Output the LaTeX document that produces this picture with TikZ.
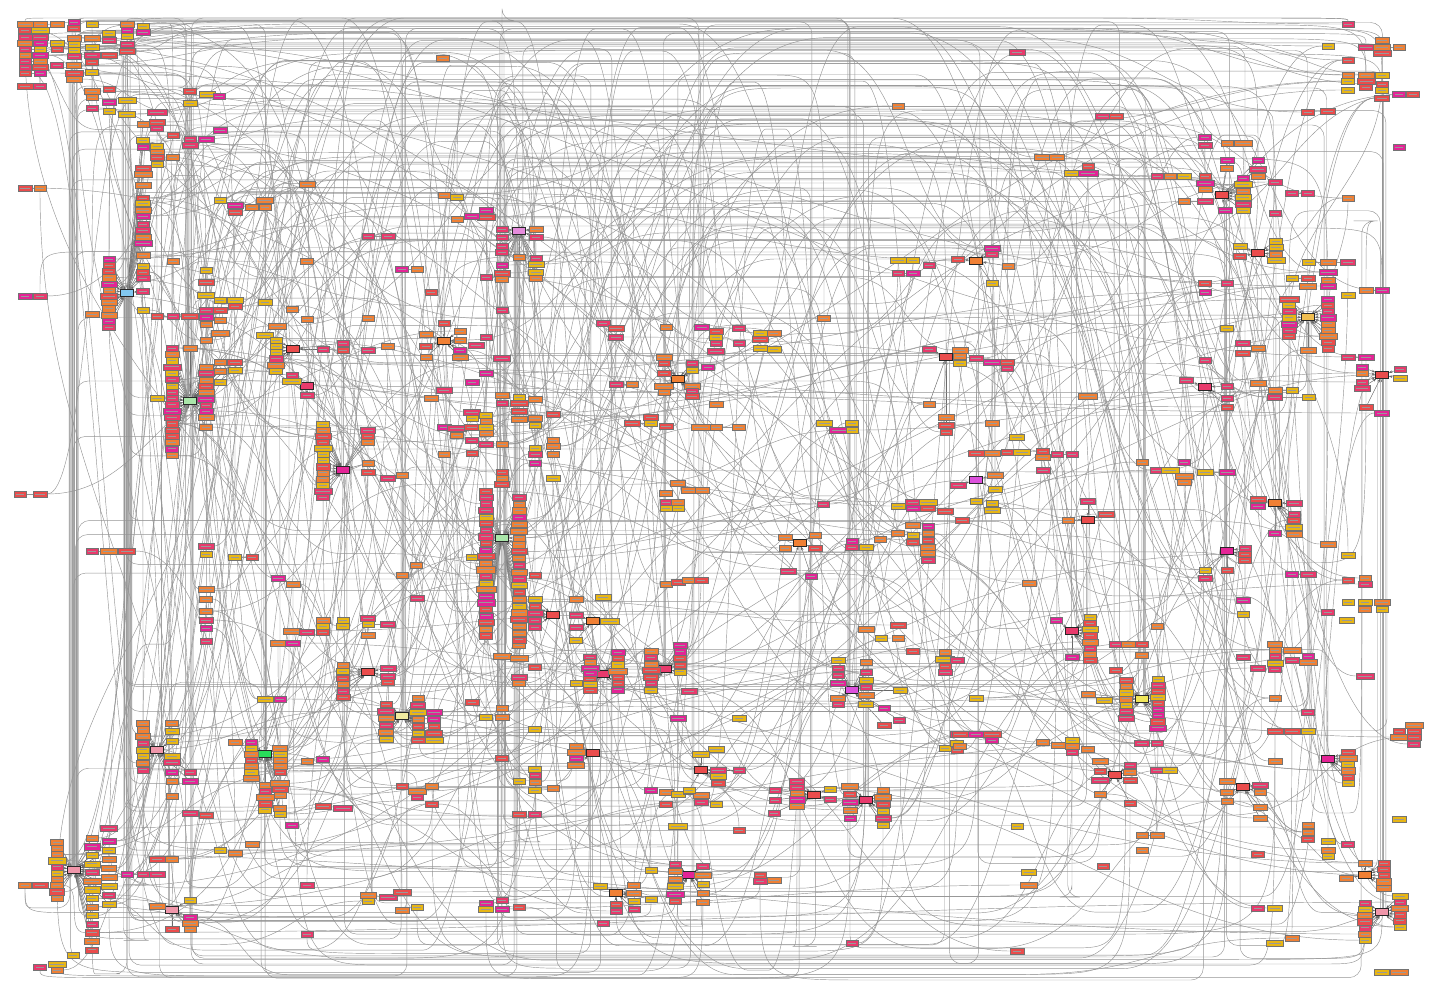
\documentclass[tikz,border=0pt]{standalone}
\usetikzlibrary{arrows.meta}
\pgfdeclarelayer{bg}
\pgfsetlayers{bg,main}
\definecolor{cY}{RGB}{232,182,20}
\definecolor{cO}{RGB}{240,128,52}
\definecolor{cR}{RGB}{234,76,76}
\definecolor{cP}{RGB}{232,58,108}
\definecolor{cM}{RGB}{228,36,150}
\definecolor{hBlue}{RGB}{130,200,240}
\definecolor{hLG}{RGB}{170,230,170}
\definecolor{hGrn}{RGB}{40,220,90}
\definecolor{hPY}{RGB}{240,235,160}
\definecolor{hPink}{RGB}{240,150,170}
\definecolor{hLav}{RGB}{230,140,220}
\definecolor{hMag}{RGB}{220,80,220}
\definecolor{hYel}{RGB}{240,190,80}
\definecolor{hYelB}{RGB}{240,230,90}
\newcount\boxcount
\newcount\edgecount
\gdef\hublist{0/0}
\gdef\curhub{1}
\pgfmathdeclarerandomlist{boxcols}{{cR}{cR}{cO}{cO}{cO}{cY}{cY}{cP}{cP}{cM}}
\newcommand\addedge[3]{%
  \global\advance\edgecount by 1
  \expandafter\xdef\csname EA\the\edgecount\endcsname{#1}%
  \expandafter\xdef\csname EB\the\edgecount\endcsname{#2}%
  \expandafter\xdef\csname ET\the\edgecount\endcsname{#3}}
\newcommand\mybox[2]{%
  \global\advance\boxcount by 1
  \pgfmathrandomitem{\bcol}{boxcols}%
  \pgfmathsetmacro\wpt{6+4*rnd*rnd}%
  \node[bxs,fill=\bcol,minimum width=\wpt pt] (b\the\boxcount) at (#1,#2) {};%
  \expandafter\xdef\csname X\the\boxcount\endcsname{#1}%
  \expandafter\xdef\csname Y\the\boxcount\endcsname{#2}}
\newcommand\mylink[2]{\edef\prevb{\the\boxcount}\mybox{#1}{#2}%
  \addedge{\prevb}{\the\boxcount}{1}}
\newcommand\myhub[4]{%
  \global\advance\boxcount by 1
  \node[hubst,fill=#3] (b\the\boxcount) at (#1,#2) {};%
  \expandafter\xdef\csname X\the\boxcount\endcsname{#1}%
  \expandafter\xdef\csname Y\the\boxcount\endcsname{#2}%
  \xdef\curhub{\the\boxcount}%
  \xdef\hublist{\hublist,\the\boxcount/#4}}
\newcommand\mycb[2]{\mybox{#1}{#2}\addedge{\the\boxcount}{\curhub}{2}}
\newcommand\mycol[4]{\foreach \kk in {1,...,#4}{\pgfmathsetmacro\yy{#2+(\kk-1)*#3}\mycb{#1}{\yy}}}
\newcommand\mycl[2]{\foreach \yy in {#2}{\mycb{#1}{\yy}}}
\begin{document}
\begin{tikzpicture}[x=0.5pt,y=-0.5pt,
  bxs/.style={draw=black!55,line width=0.15pt,inner sep=0pt,minimum height=3.1pt,
    path picture={\draw[black!40,line width=0.45pt] ([xshift=1.2pt]path picture bounding box.west) -- ([xshift=-1.2pt]path picture bounding box.east);}},
  hubst/.style={draw=black!85,line width=0.3pt,inner sep=0pt,minimum height=3.4pt,minimum width=6.5pt},
  lnk/.style={draw=black!42,line width=0.22pt},
  spoke/.style={draw=black!60,line width=0.22pt,-{Stealth[length=1.8pt,width=1.3pt]}}]
\useasboundingbox (0,0) rectangle (1440,994);
\pgfmathsetseed{4242}
% ---------------- free boxes
\foreach \x/\y in {57/24,57/43,57/49,57/65,74/22,74/28,74/38,74/44,74/50,74/56,74/65,74/73,74/79,92/24,92/38,92/47,92/55,92/62,92/72,109/33,109/40,109/55,127/24,127/30,127/36,127/44,127/51,143/26,143/32,92/91,109/89,92/97,92/108,109/102,109/111,127/100,127/114,157/112,157/122,157/128,157/146,157/152,157/157,157/164,173/135,173/157,190/91,207/94,190/103,219/96,220/130,307/184,265/200,235/212,443/58,307/261,431/292,173/261,92/314,
206/270,206/282,206/295,206/310,206/317,206/324,206/340,220/300,220/310,220/320,220/333,235/300,235/306,265/302,277/326,265/335,292/309,307/319,368/318,
472/382,444/390,431/398,444/427,457/428,472/427,457/435,472/440,472/453,472/412,472/418,444/454}{\mybox{\x}{\y}}
\foreach \x/\y in {486/210,486/217,486/277,502/310,486/337,502/358,486/373,502/395,502/403,519/397,519/403,519/411,519/419,535/399,535/418,535/425,553/414,486/415,486/421,486/427,486/433,502/444,486/444,535/448,535/454,535/463,553/440,553/446,553/454,502/472,502/478,502/484,553/478,486/491,603/323,616/328,616/337,666/327,702/327,716/331,716/337,716/343,716/351,739/328,739/343,760/333,760/339,760/348,774/333,774/349,824/318,898/106,929/265,716/404,651/417,666/426,701/427,852/423,678/483,689/490,702/490,666/493}{\mybox{\x}{\y}}
\foreach \x/\y in {1348/24,1328/46,1348/60,1382/40,1382/53,1348/75,1348/81,1366/75,1366/81,1366/87,1382/75,1382/84,1382/90,1382/98,1348/90,1399/147,1017/52,1088/166,1205/137,1205/145,1157/176,1170/176,1184/176,1205/176,1205/183,1205/189,1275/213,1348/198,1328/272,1328/280,1328/286,1308/286,1348/295,1205/283,1205/292,1227/283,1227/328,1243/343,1243/353,1258/348,1205/360,1088/396,960/350,960/356,960/363,1007/368,992/423,1017/437,1043/457,1043/470,1142/462,1184/462,1184/476,1184/482}{\mybox{\x}{\y}}
\foreach \x/\y in {206/546,206/554,206/589,206/599,206/611,206/620,206/628,206/641,323/620,323/626,323/632,343/620,343/626,368/618,368/635,416/565,402/575,417/598,472/557,472/702,307/761,323/759,292/825,402/786,417/791,432/786,432/804,417/797,417/907,402/910,368/901,307/885,307/934,109/828,252/844,73/955,40/967,57/964,57/970}{\mybox{\x}{\y}}
\foreach \x/\y in {535/575,502/656,519/645,519/658,535/667,519/677,519/683,502/708,486/717,502/717,535/729,576/599,603/597,576/683,666/584,678/582,689/580,701/580,666/502,666/508,678/502,678/508,689/691,678/718,739/718,502/758,519/781,535/769,535/775,535/782,535/790,553/788,519/814,535/814,716/749,651/790,666/792,678/794,666/804,689/791,701/795,701/802,716/804,739/830,678/826,502/900,486/903,502/909,486/909,519/907,852/943,603/923,760/881,
823/504,852/541,852/547,866/547,880/539,898/533,913/525,913/535,913/542,928/526,928/533,928/540,928/547,928/553,928/560,898/506,913/502,913/508,928/502,928/508,945/511,
866/629,881/638,898/625,898/638,913/651,945/652,945/659,945/666,945/672,957/660,957/734,945/748,957/743,957/750}{\mybox{\x}{\y}}
\foreach \x/\y in {976/501,992/503,992/510,962/520,1258/499,1258/506,1328/544,1348/555,1348/580,1365/578,1365/584,1029/583,1243/600,1243/614,1328/612,1347/620,1348/602,1365/602,1382/602,1382/609,1365/609,1116/644,1128/644,1142/644,1142/655,1157/626,1116/670,976/698,960/734,976/734,992/734,992/740,960/746,1043/742,1058/745,1072/740,1072/746,1072/752,1088/749,1142/743,1157/743,1157/770,1170/770,1308/712,1275/731,1292/731,1308/731,1275/761,1414/725,1414/731,1414/737,1414/744,1399/731,1399/737,1243/657,1258/668,1275/644,1275/650,1275/656,1275/663,1275/669,1292/650,1292/660,1308/656,1308/662,1275/698,1017/826,1142/850,1103/866,1029/872,1029/885,1258/854,1308/825,1308/832,1308/839,1328/841,1328/850,1328/856,1348/844,1258/908,1275/908,1275/943,1292/938,1017/951,1399/819,1365/676}{\mybox{\x}{\y}}
% ---------------- chains
\foreach \y in {24,30,37,43,49,55,61,67,73,86}{\mybox{25}{\y}\mylink{40}{\y}}
\mybox{25}{188}\mylink{40}{188}
\mybox{25}{296}\mylink{40}{296}
\mybox{20}{494}\mylink{40}{494}
\mybox{25}{885}\mylink{40}{885}
\mybox{143}{310}\mylink{157}{316}\mylink{173}{316}\mylink{190}{316}
\mybox{190}{139}\mylink{190}{145}\mylink{206}{139}
\mybox{220}{200}\mylink{235}{205}\mylink{252}{207}\mylink{265}{207}
\mybox{444}{195}\mylink{457}{197}
\mybox{457}{219}\mylink{472}{216}
\mybox{368}{236}\mylink{388}{236}
\mybox{402}{269}\mylink{417}{269}
\mybox{368}{350}\mylink{388}{346}
\mybox{368}{472}\mylink{388}{478}\mylink{402}{475}
\mybox{616}{384}\mylink{632}{384}
\mybox{632}{423}\mylink{651}{423}
\mybox{716}{427}\mylink{739}{427}
\mybox{824}{423}\mylink{839}{430}\mylink{852}{430}
\mybox{898}{260}\mylink{913}{260}
\mybox{898}{273}\mylink{913}{273}
\mybox{1366}{47}\mylink{1382}{47}\mylink{1399}{47}
\mybox{1399}{94}\mylink{1413}{94}
\mybox{1308}{112}\mylink{1328}{111}
\mybox{1103}{116}\mylink{1116}{116}
\mybox{1043}{157}\mylink{1057}{157}
\mybox{1072}{173}\mylink{1088}{173}
\mybox{1227}{143}\mylink{1243}{143}
\mybox{1184}{201}\mylink{1205}{201}
\mybox{1292}{193}\mylink{1308}{193}
\mybox{1309}{262}\mylink{1328}{262}\mylink{1348}{262}
\mybox{1292}{278}\mylink{1308}{278}
\mybox{1348}{357}\mylink{1366}{357}
\mybox{1366}{290}\mylink{1382}{290}
\mybox{1258}{383}\mylink{1275}{390}\mylink{1292}{390}
\mybox{1275}{397}\mylink{1309}{397}
\mybox{976}{358}\mylink{992}{362}\mylink{1007}{362}
\mybox{976}{453}\mylink{992}{453}\mylink{1007}{452}\mylink{1022}{452}\mylink{1043}{451}
\mybox{1057}{454}\mylink{1072}{454}
\mybox{1157}{470}\mylink{1170}{470}
\mybox{1205}{472}\mylink{1227}{472}
\mybox{92}{551}\mylink{109}{551}\mylink{127}{551}
\mybox{235}{557}\mylink{252}{557}
\mybox{278}{578}\mylink{293}{584}
\mybox{292}{631}\mylink{307}{632}
\mybox{278}{643}\mylink{293}{643}
\mybox{368}{624}\mylink{388}{624}
\mybox{190}{813}\mylink{206}{815}
\mybox{323}{806}\mylink{343}{808}
\mybox{368}{895}\mylink{388}{897}\mylink{402}{892}
\mybox{127}{874}\mylink{143}{874}\mylink{157}{874}
\mybox{157}{859}\mylink{172}{859}
\mybox{220}{850}\mylink{235}{853}
\mybox{760}{875}\mylink{774}{880}
\mybox{1292}{574}\mylink{1308}{574}
\mybox{1142}{835}\mylink{1157}{835}
\mybox{1382}{972}\mylink{1399}{972}
% ---------------- hub clusters
\myhub{127}{293}{hBlue}{30}
\mycol{109}{259}{6.2}{12}
\mycl{143}{124,140,147,168,174,185,198,203,210,216,224,230,237,243,255,266,272,278,291}
\myhub{190}{401}{hLG}{20}
\mycol{172}{348}{6.3}{18}
\mycb{157}{398}
\mycl{206}{367,373,380,386,392,399,405,411,417,427}
\mycb{190}{348}\mycb{220}{362}\mycb{220}{371}\mycb{220}{382}\mycb{235}{362}\mycb{235}{370}
\myhub{293}{349}{cR}{1}
\mycol{276}{340}{6.2}{6}
\mycb{323}{349}\mycb{343}{343}\mycb{343}{350}
\myhub{307}{386}{cP}{1}
\mycb{292}{375}\mycb{292}{381}\mycb{307}{395}
\myhub{444}{341}{cO}{1}
\mycb{426}{334}\mycb{426}{346}\mycb{426}{357}\mycb{460}{331}\mycb{460}{340}\mycb{460}{350}\mycb{460}{357}\mycb{444}{323}\mycb{476}{345}
\myhub{343}{470}{cM}{4}
\mycol{323}{424}{6.1}{13}
\mycb{368}{430}\mycb{368}{436}\mycb{368}{442}\mycb{368}{463}
\myhub{519}{231}{hLav}{10}
\mycl{502}{229,237,246,252,265,273,279}
\mycl{536}{229,237,258,264,272,278}
\mycb{519}{257}
\myhub{678}{379}{cO}{2}
\mycl{664}{357,363,373,386,392}
\mycl{692}{363,370,386,391,396}
\mycb{708}{367}
\myhub{946}{357}{cR}{2}
\mycb{929}{349}\mycb{946}{417}\mycb{946}{425}\mycb{946}{432}\mycb{929}{404}
\myhub{1222}{195}{cR}{3}
\mycb{1227}{160}\mycb{1227}{168}\mycb{1258}{160}\mycb{1258}{169}\mycb{1258}{176}
\mycol{1243}{178}{6.5}{6}
\mycb{1225}{210}\mycb{1275}{182}
\myhub{976}{261}{cO}{2}
\mycb{992}{248}\mycb{992}{254}\mycb{1008}{266}\mycb{992}{283}\mycb{958}{259}
\myhub{1258}{253}{cR}{1}
\mycb{1240}{246}\mycb{1240}{256}\mycl{1276}{241,247,254,260}
\myhub{1308}{317}{hYel}{6}
\mycol{1289}{299}{6.2}{7}
\mycol{1328}{299}{6.2}{9}
\mycb{1308}{350}
\myhub{1382}{375}{cR}{3}
\mycl{1362}{367,373,382,388}
\mycb{1366}{407}\mycb{1400}{369}\mycb{1400}{378}\mycb{1382}{413}
\myhub{1205}{387}{cP}{1}
\mycb{1186}{380}\mycb{1227}{386}\mycb{1227}{398}\mycb{1227}{407}
\myhub{976}{480}{hMag}{2}
\mycb{995}{475}\mycb{995}{489}\mycb{958}{485}
\myhub{368}{672}{cR}{2}
\mycol{343}{665}{6.5}{6}
\mycl{388}{668,676,682}
\myhub{402}{716}{hPY}{8}
\mycol{386}{704}{7}{6}
\mycol{418}{698}{7}{7}
\mycol{434}{712}{7}{5}
\myhub{157}{750}{hPink}{3}
\mycol{143}{723}{6.7}{8}
\mycl{172}{723,731,741,756,762}
\mycb{172}{772}\mycb{190}{772}\mycb{172}{781}\mycb{190}{781}\mycb{172}{796}
\myhub{265}{754}{hGrn}{8}
\mycol{251}{742}{6}{7}
\mycol{280}{748}{6}{5}
\mycb{235}{742}\mycb{265}{699}\mycb{280}{699}
\mycol{265}{785}{6.2}{5}
\mycl{280}{783,789,795,808,814}
\myhub{74}{870}{hPink}{25}
\mycol{57}{842}{6.2}{10}
\mycol{92}{838}{8.6}{14}
\mycol{109}{841}{9}{8}
\myhub{172}{910}{hPink}{2}
\mycb{157}{906}\mycl{190}{900,917,923,929}\mycb{172}{929}
\myhub{502}{538}{hLG}{30}
\mycol{486}{497}{6.6}{22}
\mycol{519}{497}{6.8}{22}
\myhub{553}{615}{cR}{1}
\mycol{535}{599}{7}{5}
\myhub{593}{621}{cO}{2}
\mycb{576}{615}\mycb{576}{627}\mycb{576}{640}\mycb{610}{621}
\myhub{603}{674}{cP}{3}
\mycol{590}{657}{5.5}{7}
\mycol{618}{652}{6.3}{7}
\myhub{665}{669}{cP}{3}
\mycol{651}{651}{6.5}{7}
\mycol{680}{645}{6.7}{5}
\myhub{593}{753}{cR}{2}
\mycl{576}{746,752,758,765}
\myhub{701}{770}{cR}{2}
\mycb{701}{754}\mycl{718}{770,776,783}\mycb{739}{770}\mycb{689}{790}
\myhub{689}{875}{cM}{3}
\mycol{675}{864}{7.5}{6}
\mycol{703}{866}{9}{5}
\mycb{651}{870}
\myhub{616}{893}{cO}{2}
\mycb{600}{886}\mycb{616}{904}\mycb{616}{911}\mycol{634}{885}{8}{4}\mycb{651}{899}
\myhub{800}{543}{cO}{2}
\mycl{785}{537,548}\mycl{815}{535,548}\mycb{788}{571}\mycb{811}{576}
\myhub{852}{690}{hMag}{8}
\mycl{838}{660,668,675,683,698,704}
\mycl{866}{662,672,680,687,695,704}
\mycb{884}{708}\mycb{899}{720}\mycb{884}{725}\mycb{900}{690}
\myhub{814}{795}{cR}{3}
\mycol{797}{781}{6.2}{5}
\mycb{775}{790}\mycb{775}{800}\mycb{830}{789}\mycb{830}{799}\mycb{774}{813}
\myhub{866}{800}{cP}{3}
\mycol{850}{786}{8}{5}
\mycol{883}{790}{7}{6}
\myhub{1088}{520}{cR}{2}
\mycb{1106}{514}\mycb{1088}{501}\mycb{1068}{520}
\myhub{1275}{503}{cO}{2}
\mycl{1294}{503,514,520,527,534}\mycb{1275}{533}
\myhub{1227}{551}{cM}{3}
\mycl{1245}{548,554,560}\mycl{1205}{570,578}\mycb{1227}{570}
\myhub{1072}{631}{cP}{3}
\mycb{1056}{620}\mycol{1090}{617}{6.2}{8}\mycb{1072}{657}
\myhub{1142}{699}{hYelB}{6}
\mycol{1126}{680}{6.3}{7}
\mycol{1158}{679}{6.1}{9}
\mycb{1088}{694}\mycb{1104}{700}
\myhub{1115}{775}{cR}{2}
\mycl{1100}{761,771,780,794}\mycl{1130}{765,772,780}\mycb{1130}{803}
\myhub{1328}{759}{cM}{3}
\mycol{1348}{752}{6.2}{6}
\myhub{1243}{787}{cR}{2}
\mycl{1227}{781,792,801}\mycl{1260}{785,792,807,818}
\myhub{1365}{875}{cO}{2}
\mycb{1365}{863}\mycb{1346}{878}\mycol{1384}{863}{6.2}{5}
\myhub{1382}{912}{hPink}{5}
\mycol{1365}{903}{6.2}{7}
\mycol{1400}{896}{6.2}{6}
% ---------------- all connectors, on one background layer
\begin{pgfonlayer}{bg}
\fill[white] (0,0) rectangle (1440,994);
\foreach \ee in {1,...,\the\edgecount}{%
  \edef\ea{\csname EA\ee\endcsname}\edef\eb{\csname EB\ee\endcsname}\edef\et{\csname ET\ee\endcsname}%
  \ifnum\et=1 \draw[lnk] (b\ea) -- (b\eb);\else\draw[spoke] (b\ea) -- (b\eb);\fi}
% bundles leaving the hubs vertically
\foreach \hh/\hn in \hublist {\ifnum\hn>0
  \foreach \jj in {1,...,\hn}{%
    \pgfmathrandominteger{\ib}{1}{\the\boxcount}%
    \ifnum\ib=\hh\else
      \edef\xh{\csname X\hh\endcsname}\edef\yh{\csname Y\hh\endcsname}%
      \edef\xb{\csname X\ib\endcsname}\edef\yb{\csname Y\ib\endcsname}%
      \pgfmathsetmacro\dx{rnd*5-2.5}%
      \pgfmathsetmacro\sg{\xb<\xh ? -1 : 1}%
      \pgfmathsetmacro\dd{min(abs(\xb-\xh)/2.2,40+rnd*140)}%
      \pgfmathsetmacro\lev{\yb<\yh ? 18+rnd*max(0,min(\yb,\yh)-28) : max(\yb,\yh)+10+rnd*max(0,980-max(\yb,\yh)-10)}%
      \draw[lnk,rounded corners=6pt] ([xshift=\dx pt]b\hh.center) |- (\xb-\sg*\dd,\lev) .. controls (\xb,\lev) .. (b\ib);
    \fi}%
\fi}
% long connectors
\foreach \k in {1,...,400}{%
  \pgfmathrandominteger{\ia}{1}{\the\boxcount}%
  \pgfmathrandominteger{\ib}{1}{\the\boxcount}%
  \ifnum\ia=\ib\else
    \edef\xa{\csname X\ia\endcsname}\edef\ya{\csname Y\ia\endcsname}%
    \edef\xb{\csname X\ib\endcsname}\edef\yb{\csname Y\ib\endcsname}%
    \pgfmathsetmacro\vmn{min(\ya,\yb)}%
    \pgfmathsetmacro\vmx{max(\ya,\yb)}%
    \pgfmathsetmacro\adx{abs(\xb-\xa)}%
    \pgfmathsetmacro\ady{abs(\yb-\ya)}%
    \pgfmathsetmacro\sg{\xb<\xa ? -1 : 1}%
    \pgfmathsetmacro\dd{min(\adx/2.3,90+rnd*260)}%
    \pgfmathsetmacro\hd{0.5*\dd}%
    \pgfmathsetmacro\angA{\sg>0 ? 0 : 180}%
    \pgfmathsetmacro\angB{\sg>0 ? 180 : 0}%
    \pgfmathrandominteger{\etype}{1}{20}%
    \ifdim\adx pt<120pt \def\etype{19}\fi
    \ifnum\etype<15
      \ifnum\etype<9
        \pgfmathsetmacro\lev{18+rnd*max(0,min(250,\vmn-14)-18)}%
      \else\ifnum\etype<12
        \pgfmathsetmacro\lev{\vmx+14+rnd*max(0,978-\vmx-14)}%
      \else
        \pgfmathsetmacro\lev{\vmn+rnd*(\vmx-\vmn)}%
      \fi\fi
      \draw[lnk] (b\ia) .. controls (\xa+\sg*\hd,\ya) and (\xa+\sg*\hd,\lev) .. (\xa+\sg*\dd,\lev) -- (\xb-\sg*\dd,\lev) .. controls (\xb-\sg*\hd,\lev) and (\xb-\sg*\hd,\yb) .. (b\ib);
    \else
      \pgfmathsetmacro\hz{\adx>0.6*\ady ? 1 : 0}%
      \ifdim\hz pt>0.5pt
        \draw[lnk] (b\ia) to[out=\angA,in=\angB] (b\ib);
      \else
        \pgfmathsetmacro\vA{\yb<\ya ? 90 : 270}%
        \pgfmathsetmacro\vB{\yb<\ya ? 270 : 90}%
        \draw[lnk] (b\ia) to[out=\vA,in=\vB] (b\ib);
      \fi
    \fi
  \fi}
\end{pgfonlayer}
\end{tikzpicture}
\end{document}
